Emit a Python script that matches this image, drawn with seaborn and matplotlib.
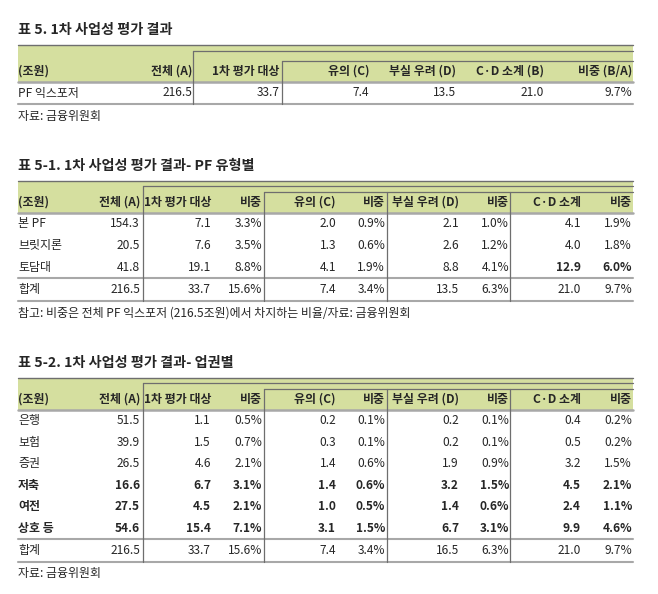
import matplotlib.pyplot as plt
import seaborn as sns

sns.set_theme(style='white')
plt.rcParams['font.family'] = ['Noto Sans CJK KR', 'DejaVu Sans']

# ---- data ----
t1_title = '표 5. 1차 사업성 평가 결과'
t1_header = ['(조원)', '전체 (A)', '1차 평가 대상', '유의 (C)', '부실 우려 (D)', 'C·D 소계 (B)', '비중 (B/A)']
t1_rows = ['PF 익스포저']
t1_total = [216.5]
t1_first = [33.7]
t1_caution = [7.4]
t1_risk = [13.5]
t1_cd = [21.0]
t1_share = [9.7]
t1_note = '자료: 금융위원회'

t2_title = '표 5-1. 1차 사업성 평가 결과- PF 유형별'
t2_rows = ['본 PF', '브릿지론', '토담대', '합계']
t2_total = [154.3, 20.5, 41.8, 216.5]
t2_first = [7.1, 7.6, 19.1, 33.7]
t2_first_pct = [3.3, 3.5, 8.8, 15.6]
t2_caution = [2.0, 1.3, 4.1, 7.4]
t2_caution_pct = [0.9, 0.6, 1.9, 3.4]
t2_risk = [2.1, 2.6, 8.8, 13.5]
t2_risk_pct = [1.0, 1.2, 4.1, 6.3]
t2_cd = [4.1, 4.0, 12.9, 21.0]
t2_cd_pct = [1.9, 1.8, 6.0, 9.7]
t2_note = '참고: 비중은 전체 PF 익스포저 (216.5조원)에서 차지하는 비율/자료: 금융위원회'

t3_title = '표 5-2. 1차 사업성 평가 결과- 업권별'
t3_rows = ['은행', '보험', '증권', '저축', '여전', '상호 등', '합계']
t3_total = [51.5, 39.9, 26.5, 16.6, 27.5, 54.6, 216.5]
t3_first = [1.1, 1.5, 4.6, 6.7, 4.5, 15.4, 33.7]
t3_first_pct = [0.5, 0.7, 2.1, 3.1, 2.1, 7.1, 15.6]
t3_caution = [0.2, 0.3, 1.4, 1.4, 1.0, 3.1, 7.4]
t3_caution_pct = [0.1, 0.1, 0.6, 0.6, 0.5, 1.5, 3.4]
t3_risk = [0.2, 0.2, 1.9, 3.2, 1.4, 6.7, 16.5]
t3_risk_pct = [0.1, 0.1, 0.9, 1.5, 0.6, 3.1, 6.3]
t3_cd = [0.4, 0.5, 3.2, 4.5, 2.4, 9.9, 21.0]
t3_cd_pct = [0.2, 0.2, 1.5, 2.1, 1.1, 4.6, 9.7]
t3_note = '자료: 금융위원회'

pair_header = ['(조원)', '전체 (A)', '1차 평가 대상', '비중', '유의 (C)', '비중',
               '부실 우려 (D)', '비중', 'C·D 소계', '비중']

GREEN = '#d5df9f'
DARK = '#6e6e6e'
LIGHT = '#a8a8a8'
FS = 8.6
LEFT, RIGHT = 18, 633


def fmt(v, pct=False):
    return f'{v:.1f}%' if pct else f'{v:.1f}'


def draw_table(ax, title, top, head_h, header, col_right, rows, cols, pct_flags,
               boxes, vlines, row_h, bold_cells, note, has_total):
    ax.text(LEFT, top - 15, title, fontsize=10.2, fontweight='bold', va='center', ha='left')
    hb = top + head_h
    ax.fill_between([LEFT, RIGHT], top, hb, color=GREEN, lw=0, zorder=0)
    ax.plot([LEFT, RIGHT], [top, top], color=DARK, lw=1.0)
    for x, off in boxes:
        ax.plot([x, RIGHT], [top + off, top + off], color=DARK, lw=0.9)
    hy = hb - 10.5
    ax.text(LEFT, hy, header[0], fontsize=FS, fontweight='bold', va='center', ha='left')
    for lab, xr in zip(header[1:], col_right):
        ax.text(xr, hy, lab, fontsize=FS, fontweight='bold', va='center', ha='right')
    ax.plot([LEFT, RIGHT], [hb, hb], color=LIGHT, lw=1.8)

    y = hb
    n = len(rows)
    for i, name in enumerate(rows):
        is_total = has_total and i == n - 1
        if is_total:
            ax.plot([LEFT, RIGHT], [y, y], color=LIGHT, lw=1.5)
        h = 22.5 if is_total else row_h
        cy = y + h / 2
        rb = (i, 0) in bold_cells
        ax.text(LEFT, cy, name, fontsize=FS, va='center', ha='left',
                fontweight='bold' if rb else 'normal')
        for j, (col, pct, xr) in enumerate(zip(cols, pct_flags, col_right)):
            b = (i, 0) in bold_cells or (i, j + 1) in bold_cells
            ax.text(xr, cy, fmt(col[i], pct), fontsize=FS, va='center', ha='right',
                    fontweight='bold' if b else 'normal')
        y += h
    ax.plot([LEFT, RIGHT], [y, y], color=LIGHT, lw=1.5)
    for x, off in vlines:
        ax.plot([x, x], [top + off, y], color=DARK, lw=0.9)
    ax.text(LEFT, y + 12.5, note, fontsize=FS, va='center', ha='left')


fig = plt.figure(figsize=(6.58, 5.94), dpi=100)
ax = fig.add_axes([0, 0, 1, 1])
ax.set_xlim(0, 658)
ax.set_ylim(594, 0)
ax.axis('off')

draw_table(ax, t1_title, 45, 37, t1_header, [192, 280, 369, 456, 544, 632], t1_rows,
           [t1_total, t1_first, t1_caution, t1_risk, t1_cd, t1_share],
           [False, False, False, False, False, True],
           [(193, 6), (282, 16)], [(193, 6), (282, 16)], 22, set(), t1_note, False)

pair_right = [140, 211, 262, 336, 385, 459, 509, 581, 632]
pair_flags = [False, False, True, False, True, False, True, False, True]
pair_boxes = [(143, 5), (264, 11)]
pair_vlines = [(143, 5), (264, 11), (387, 11), (510, 11)]

draw_table(ax, t2_title, 181, 32, pair_header, pair_right, t2_rows,
           [t2_total, t2_first, t2_first_pct, t2_caution, t2_caution_pct,
            t2_risk, t2_risk_pct, t2_cd, t2_cd_pct],
           pair_flags, pair_boxes, pair_vlines, 21.7, {(2, 8), (2, 9)}, t2_note, True)

bold3 = {(3, 0), (4, 0), (5, 0)}
draw_table(ax, t3_title, 378, 32, pair_header, pair_right, t3_rows,
           [t3_total, t3_first, t3_first_pct, t3_caution, t3_caution_pct,
            t3_risk, t3_risk_pct, t3_cd, t3_cd_pct],
           pair_flags, pair_boxes, pair_vlines, 21.5, bold3, t3_note, True)

fig.savefig('out.png', dpi=100)
